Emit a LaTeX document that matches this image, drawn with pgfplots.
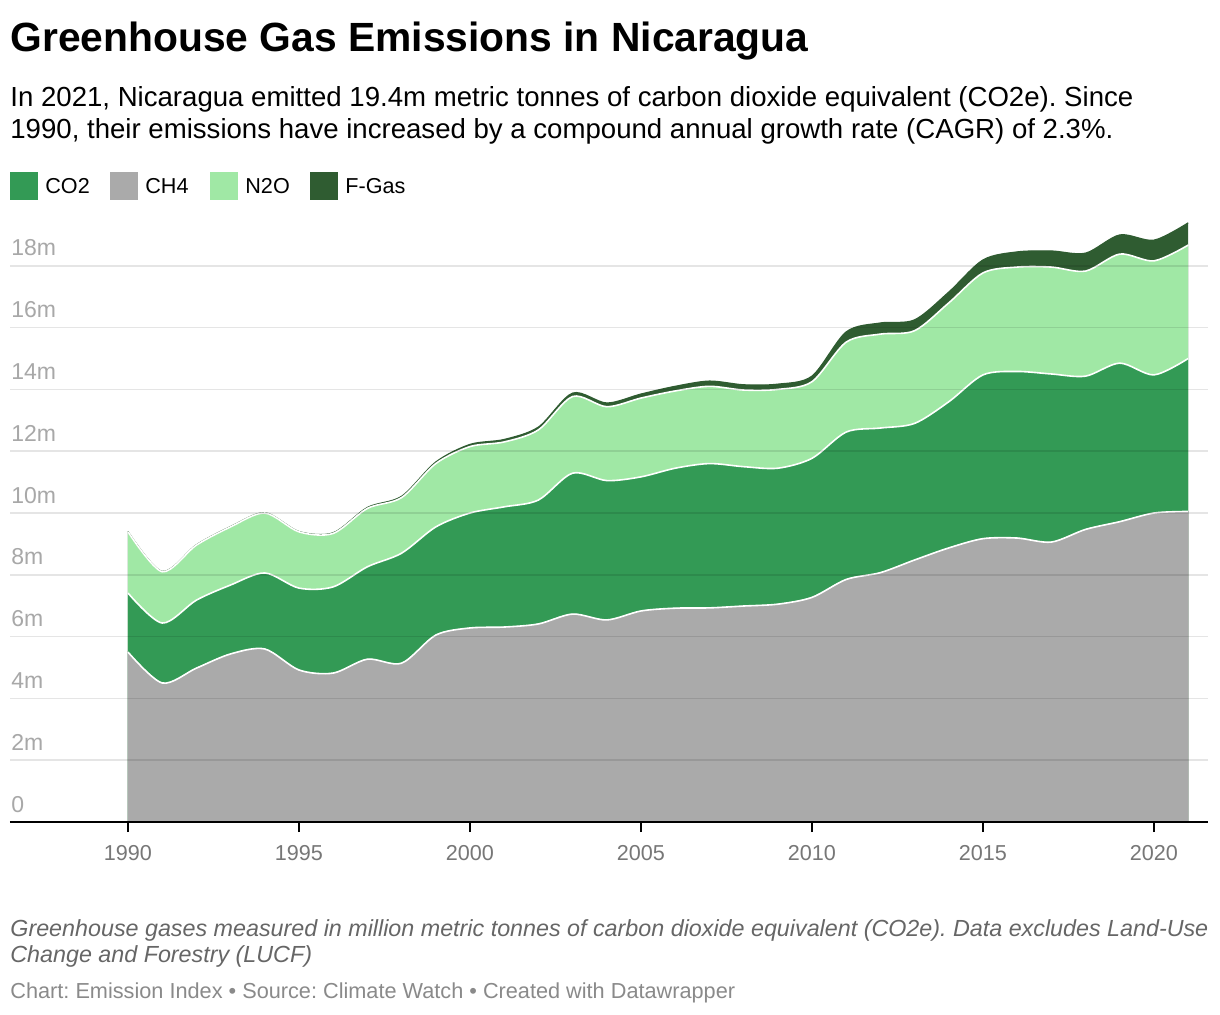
\documentclass[border=0pt]{standalone}
\usepackage{fontspec}
\setmainfont{Liberation Sans}
\usepackage{pgfplots}
\usepackage{pgfplotstable}
\pgfplotsset{compat=1.18}

\definecolor{co2}{HTML}{339A55}
\definecolor{ch4}{HTML}{AAAAAA}
\definecolor{n2o}{HTML}{A0E8A5}
\definecolor{fgas}{HTML}{2F5C31}
\definecolor{ticktxt}{HTML}{777777}
\definecolor{ylab}{HTML}{A8A8A8}
\definecolor{note}{HTML}{666666}
\definecolor{src}{HTML}{8A8A8A}

% million tonnes CO2e per gas
\pgfplotstableread{
year ch4   co2  n2o  fgas
1990 5.50  1.91 1.98 0.01
1991 4.50  1.94 1.66 0.01
1992 4.98  2.20 1.78 0.01
1993 5.44  2.23 1.88 0.01
1994 5.60  2.46 1.94 0.01
1995 4.92  2.65 1.82 0.01
1996 4.82  2.79 1.73 0.02
1997 5.27  2.99 1.89 0.03
1998 5.14  3.56 1.80 0.04
1999 6.05  3.50 2.05 0.05
2000 6.28  3.72 2.15 0.07
2001 6.31  3.89 2.10 0.08
2002 6.41  4.01 2.27 0.09
2003 6.73  4.56 2.48 0.11
2004 6.54  4.51 2.39 0.12
2005 6.83  4.34 2.55 0.13
2006 6.92  4.53 2.50 0.15
2007 6.93  4.67 2.50 0.17
2008 6.99  4.51 2.48 0.17
2009 7.05  4.40 2.55 0.17
2010 7.27  4.50 2.48 0.18
2011 7.85  4.77 2.91 0.33
2012 8.07  4.68 3.04 0.36
2013 8.48  4.42 3.00 0.35
2014 8.87  4.73 3.20 0.35
2015 9.17  5.30 3.30 0.42
2016 9.19  5.39 3.38 0.49
2017 9.06  5.44 3.46 0.52
2018 9.47  4.96 3.40 0.58
2019 9.72  5.13 3.53 0.62
2020 10.00 4.47 3.69 0.67
2021 10.05 4.95 3.67 0.72
}\emis

\begin{document}
\frenchspacing
\begin{tikzpicture}
\begin{scope}[x=0.5pt,y=-0.5pt]
\fill[white] (0,0) rectangle (1220,1014);
\node[anchor=base west,inner sep=0,font=\bfseries\fontsize{20.4}{24}\selectfont] at (10,51) {Greenhouse Gas Emissions in Nicaragua};
\node[anchor=base west,inner sep=0,font=\fontsize{13.8}{16}\selectfont] at (10,106) {In 2021, Nicaragua emitted 19.4m metric tonnes of carbon dioxide equivalent (CO2e). Since};
\node[anchor=base west,inner sep=0,font=\fontsize{13.8}{16}\selectfont] at (10,138) {1990, their emissions have increased by a compound annual growth rate (CAGR) of 2.3\%.};
% legend
\fill[co2] (10,172) rectangle (38,200);
\node[anchor=base west,inner sep=0,font=\fontsize{10.8}{13}\selectfont] at (45,193) {CO2};
\fill[ch4] (110,172) rectangle (138,200);
\node[anchor=base west,inner sep=0,font=\fontsize{10.8}{13}\selectfont] at (145,193) {CH4};
\fill[n2o] (210,172) rectangle (238,200);
\node[anchor=base west,inner sep=0,font=\fontsize{10.8}{13}\selectfont] at (245,193) {N2O};
\fill[fgas] (310,172) rectangle (338,200);
\node[anchor=base west,inner sep=0,font=\fontsize{10.8}{13}\selectfont] at (345,193) {F-Gas};
% notes
\node[anchor=base west,inner sep=0,text=note,font=\itshape\fontsize{11.65}{14}\selectfont] at (10,936) {Greenhouse gases measured in million metric tonnes of carbon dioxide equivalent (CO2e). Data excludes Land-Use};
\node[anchor=base west,inner sep=0,text=note,font=\itshape\fontsize{11.65}{14}\selectfont] at (10,962) {Change and Forestry (LUCF)};
\node[anchor=base west,inner sep=0,text=src,font=\fontsize{10.85}{13}\selectfont] at (10,998) {Chart: Emission Index \textbullet{} Source: Climate Watch \textbullet{} Created with Datawrapper};
\end{scope}

\begin{axis}[
    at={(5pt,-411pt)}, anchor=south west,
    scale only axis, width=599pt, height=309pt,
    xmin=1986.55, xmax=2021.58,
    ymin=0, ymax=20,
    axis x line*=bottom,
    axis y line*=left,
    y axis line style={draw=none},
    x axis line style={black, line width=1pt},
    axis on top,
    xtick={1990,1995,2000,2005,2010,2015,2020},
    xticklabel style={text=ticktxt, font=\fontsize{10.8}{13}\selectfont, yshift=-3pt},
    x tick style={black, line width=1pt},
    tick align=outside,
    major tick length=5pt,
    ytick={0,2,...,18},
    yticklabels={0,2m,4m,6m,8m,10m,12m,14m,16m,18m},
    y tick style={draw=none},
    yticklabel style={anchor=base west, inner sep=0pt, xshift=5.5pt, yshift=5pt, text=ylab, font=\fontsize{11.5}{13}\selectfont},
    /pgf/number format/assume math mode=true,
    xticklabel={\pgfmathprintnumber[1000 sep=]{\tick}},
    ymajorgrids,
    major grid style={black, opacity=0.1, line width=0.75pt},
    clip=false,
]
\addplot[fill=fgas, draw=none, smooth, tension=0.5]
    table[x=year, y expr=\thisrow{ch4}+\thisrow{co2}+\thisrow{n2o}+\thisrow{fgas}] {\emis} \closedcycle;
\addplot[fill=n2o, draw=none, smooth, tension=0.5]
    table[x=year, y expr=\thisrow{ch4}+\thisrow{co2}+\thisrow{n2o}] {\emis} \closedcycle;
\addplot[fill=co2, draw=none, smooth, tension=0.5]
    table[x=year, y expr=\thisrow{ch4}+\thisrow{co2}] {\emis} \closedcycle;
\addplot[fill=ch4, draw=ch4, line width=0.4pt, smooth, tension=0.5]
    table[x=year, y=ch4] {\emis} \closedcycle;
\addplot[fgas, line width=0.6pt, smooth, tension=0.5]
    table[x=year, y expr=\thisrow{ch4}+\thisrow{co2}+\thisrow{n2o}+\thisrow{fgas}] {\emis};
\addplot[white, line width=0.8pt, smooth, tension=0.5]
    table[x=year, y expr=\thisrow{ch4}+\thisrow{co2}+\thisrow{n2o}] {\emis};
\addplot[white, line width=0.8pt, smooth, tension=0.5]
    table[x=year, y expr=\thisrow{ch4}+\thisrow{co2}] {\emis};
\addplot[white, line width=0.8pt, smooth, tension=0.5]
    table[x=year, y=ch4] {\emis};
\end{axis}
\end{tikzpicture}
\end{document}
